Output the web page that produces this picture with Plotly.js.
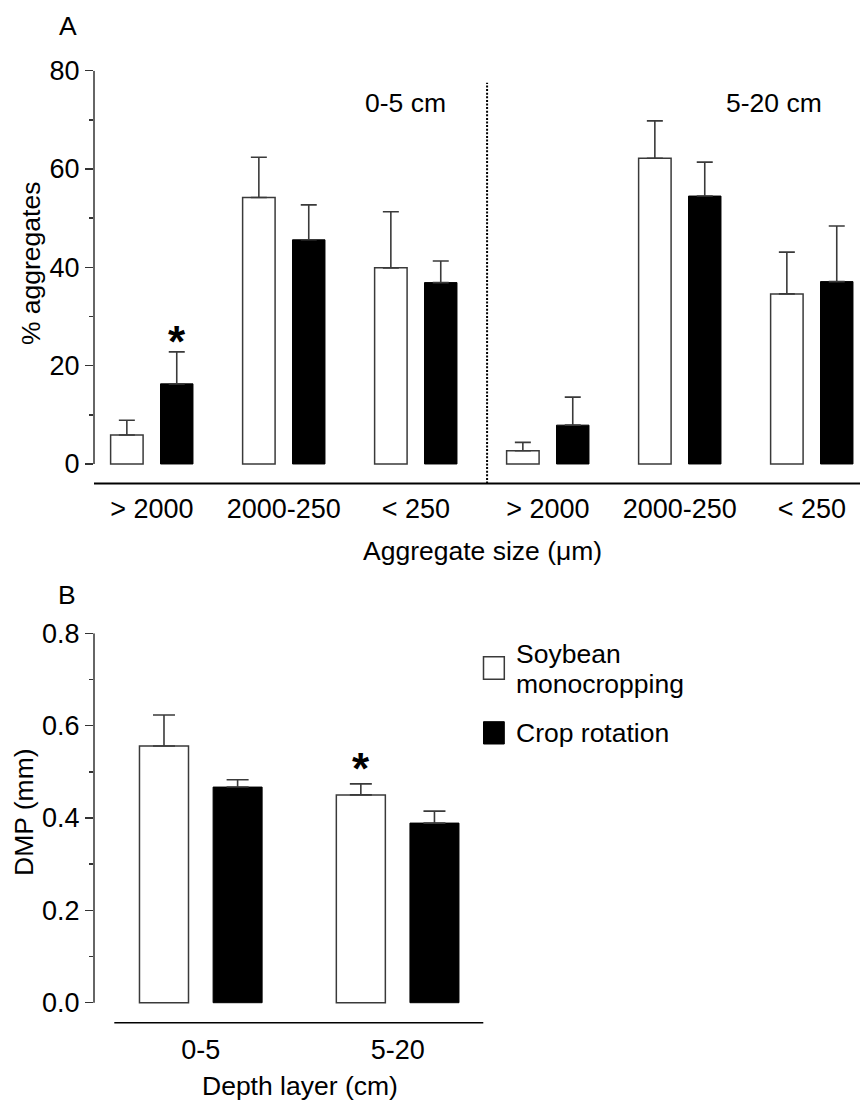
<!DOCTYPE html>
<html>
<head>
<meta charset="utf-8">
<script src="https://cdn.plot.ly/plotly-3.0.1.min.js"></script>
<style>
  html, body { margin: 0; padding: 0; background: #fff; }
  #chart { width: 860px; height: 1102px; }
</style>
</head>
<body>
<div id="chart"></div>
<script>
// ---------- Data ----------
// Panel A: aggregate size classes, two depths
const sizeClasses = ['&gt; 2000', '2000-250', '&lt; 250', '&gt; 2000', '2000-250', '&lt; 250'];
const depthLabelsA = ['0-5 cm', '5-20 cm'];
const monoAgg     = [5.9, 54.2, 39.9, 2.7, 62.2, 34.6];
const monoAggErr  = [3.0, 8.2, 11.4, 1.7, 7.6, 8.5];
const rotAgg      = [16.3, 45.6, 36.9, 7.9, 54.5, 37.1];
const rotAggErr   = [6.5, 7.1, 4.4, 5.7, 6.9, 11.3];
const monoAggSig  = ['', '', '', '', '', ''];
const rotAggSig   = ['*', '', '', '', '', ''];

// Panel B: mean weight diameter by depth layer
const depthLayers = ['0-5', '5-20'];
const monoDMP     = [0.556, 0.450];
const monoDMPErr  = [0.067, 0.024];
const rotDMP      = [0.467, 0.389];
const rotDMPErr   = [0.016, 0.026];
const monoDMPSig  = ['', '*'];
const rotDMPSig   = ['', ''];

const seriesNames = ['Soybean', 'monocropping', 'Crop rotation'];

// ---------- Helpers ----------
const W = 860, H = 1102;
const px = x => x / W;
const py = y => 1 - y / H;
const FONT = '"Liberation Sans", Arial, Helvetica, sans-serif';
const FS = 26.5;
const TFS = 27;
const AX = '#333333';

const idxA = sizeClasses.map((_, i) => i);
const idxB = depthLayers.map((_, i) => i);

const barW_A = 0.246, barW_B = 0.249;
const offMonoA = -0.312, offRotA = 0.066;
const offMonoB = -0.3115, offRotB = 0.0625;

function errBar(arr, half) {
  return {type: 'data', symmetric: false, array: arr, arrayminus: arr.map(() => 0),
          color: '#3a3a3a', thickness: 1.6, width: half};
}

const traces = [
  {type: 'bar', x: idxA, y: monoAgg, xaxis: 'x', yaxis: 'y', name: 'Soybean monocropping',
   offset: offMonoA, width: barW_A,
   marker: {color: '#ffffff', line: {color: '#3a3a3a', width: 1.5}},
   error_y: errBar(monoAggErr, 8), showlegend: false, hoverinfo: 'skip'},
  {type: 'bar', x: idxA, y: rotAgg, xaxis: 'x', yaxis: 'y', name: 'Crop rotation',
   offset: offRotA, width: barW_A,
   marker: {color: '#000000', line: {color: '#000000', width: 1}},
   error_y: errBar(rotAggErr, 8), showlegend: false, hoverinfo: 'skip'},
  {type: 'bar', x: idxB, y: monoDMP, xaxis: 'x2', yaxis: 'y2', name: 'Soybean monocropping',
   offset: offMonoB, width: barW_B,
   marker: {color: '#ffffff', line: {color: '#3a3a3a', width: 1.5}},
   error_y: errBar(monoDMPErr, 11), showlegend: false, hoverinfo: 'skip'},
  {type: 'bar', x: idxB, y: rotDMP, xaxis: 'x2', yaxis: 'y2', name: 'Crop rotation',
   offset: offRotB, width: barW_B,
   marker: {color: '#000000', line: {color: '#000000', width: 1}},
   error_y: errBar(rotDMPErr, 11), showlegend: false, hoverinfo: 'skip'}
];

const annotations = [];
function ann(o) {
  annotations.push(Object.assign({showarrow: false, font: {family: FONT, size: FS, color: '#000'}}, o));
}

// Panel letters
ann({text: 'A', xref: 'paper', yref: 'paper', x: px(67.5), y: py(25.5), xanchor: 'center', yanchor: 'middle'});
ann({text: 'B', xref: 'paper', yref: 'paper', x: px(67), y: py(594.7), xanchor: 'center', yanchor: 'middle'});

// Axis titles
ann({text: '% aggregates', xref: 'paper', yref: 'paper', x: px(30.8), y: py(263.3), textangle: -90, xanchor: 'center', yanchor: 'middle'});
ann({text: 'Aggregate size (μm)', xref: 'paper', yref: 'paper', x: px(482.5), y: py(551), xanchor: 'center', yanchor: 'middle'});
ann({text: 'DMP (mm)', xref: 'paper', yref: 'paper', x: px(23.3), y: py(811.7), textangle: -90, xanchor: 'center', yanchor: 'middle'});
ann({text: 'Depth layer (cm)', xref: 'paper', yref: 'paper', x: px(299.7), y: py(1086), xanchor: 'center', yanchor: 'middle'});

// Depth labels in panel A
ann({text: depthLabelsA[0], xref: 'paper', yref: 'paper', x: px(405.3), y: py(102.5), xanchor: 'center', yanchor: 'middle'});
ann({text: depthLabelsA[1], xref: 'paper', yref: 'paper', x: px(773.7), y: py(103), xanchor: 'center', yanchor: 'middle'});

// Significance asterisks
function sig(sigArr, vals, errs, off, w, xa, ya, shift) {
  sigArr.forEach((s, i) => {
    if (!s) return;
    annotations.push({text: '<b>' + s + '</b>', showarrow: false, xref: xa, yref: ya,
      x: i + off + w / 2, y: vals[i] + errs[i], xanchor: 'center', yanchor: 'bottom', yshift: shift,
      font: {family: FONT, size: 44, color: '#000'}});
  });
}
sig(monoAggSig, monoAgg, monoAggErr, offMonoA, barW_A, 'x', 'y', -16);
sig(rotAggSig, rotAgg, rotAggErr, offRotA, barW_A, 'x', 'y', -16);
sig(monoDMPSig, monoDMP, monoDMPErr, offMonoB, barW_B, 'x2', 'y2', -11.5);
sig(rotDMPSig, rotDMP, rotDMPErr, offRotB, barW_B, 'x2', 'y2', -11.5);

// Legend (manual)
ann({text: seriesNames[0], xref: 'paper', yref: 'paper', x: px(514), y: py(653.5), xanchor: 'left', yanchor: 'middle'});
ann({text: seriesNames[1], xref: 'paper', yref: 'paper', x: px(514), y: py(683.5), xanchor: 'left', yanchor: 'middle'});
ann({text: seriesNames[2], xref: 'paper', yref: 'paper', x: px(514), y: py(732.5), xanchor: 'left', yanchor: 'middle'});

const shapes = [
  // Panel A y-axis line (0..80 only)
  {type: 'line', xref: 'x domain', yref: 'y', x0: 0, x1: 0, y0: 0, y1: 80, line: {color: AX, width: 1.5}},
  // Panel A x-axis line
  {type: 'line', xref: 'x domain', yref: 'y domain', x0: 0, x1: 1, y0: 0, y1: 0, line: {color: '#000', width: 2}},
  // Dotted separator
  {type: 'line', xref: 'x', yref: 'y domain', x0: 2.54, x1: 2.54, y0: 0, y1: 0.971, line: {color: '#000', width: 2, dash: '2px,1.6px'}},
  // Panel B y-axis line
  {type: 'line', xref: 'x2 domain', yref: 'y2', x0: 0, x1: 0, y0: 0, y1: 0.8, line: {color: AX, width: 1.5}},
  // Panel B x-axis line
  {type: 'line', xref: 'x2 domain', yref: 'y2 domain', x0: (114.3 - 94) / (483.3 - 94), x1: 1, y0: 0, y1: 0, line: {color: '#000', width: 1.5}},
  // Legend boxes
  {type: 'rect', xref: 'paper', yref: 'paper', x0: px(483.5), x1: px(504.3), y0: py(679.3), y1: py(656.7), line: {color: '#3a3a3a', width: 1.5}, fillcolor: '#fff'},
  {type: 'rect', xref: 'paper', yref: 'paper', x0: px(483.5), x1: px(504.3), y0: py(744), y1: py(721.7), line: {color: '#000', width: 1}, fillcolor: '#000'}
];

const tickFont = {family: FONT, size: TFS, color: '#000'};

const layout = {
  width: W, height: H,
  margin: {l: 0, r: 0, t: 0, b: 0, pad: 0},
  paper_bgcolor: '#fff', plot_bgcolor: 'rgba(0,0,0,0)',
  showlegend: false,
  font: {family: FONT, size: FS, color: '#000'},
  xaxis: {domain: [px(94), 1], range: [(94 - 151.8) / 132, (860 - 151.8) / 132],
          tickvals: idxA, ticktext: sizeClasses, showline: false, zeroline: false, showgrid: false,
          ticks: 'outside', ticklen: 1, tickcolor: 'rgba(0,0,0,0)', tickfont: tickFont, fixedrange: true},
  yaxis: {domain: [py(483.5), py(70.7)], range: [-3.97, 80], dtick: 20, tick0: 0,
          showline: false, zeroline: false, showgrid: false,
          ticks: 'outside', ticklen: 8, tickwidth: 1.5, tickcolor: AX, tickfont: tickFont,
          minor: {dtick: 10, tick0: 0, ticks: 'outside', ticklen: 4, tickwidth: 1.5, tickcolor: AX},
          fixedrange: true},
  xaxis2: {domain: [px(94), px(483.3)], range: [(94 - 200.8) / 196.85, (483.3 - 200.8) / 196.85],
           anchor: 'y2', tickvals: idxB, ticktext: depthLayers, showline: false, zeroline: false, showgrid: false,
           ticks: 'outside', ticklen: 3, tickcolor: 'rgba(0,0,0,0)', tickfont: tickFont, fixedrange: true},
  yaxis2: {domain: [py(1022.7), py(633.3)], range: [-0.0433, 0.8], dtick: 0.2, tick0: 0, tickformat: '.1f',
           anchor: 'x2', showline: false, zeroline: false, showgrid: false,
           ticks: 'outside', ticklen: 8, tickwidth: 1.5, tickcolor: AX, tickfont: tickFont,
           minor: {dtick: 0.1, tick0: 0, ticks: 'outside', ticklen: 4, tickwidth: 1.5, tickcolor: AX},
           fixedrange: true},
  shapes: shapes,
  annotations: annotations
};

Plotly.newPlot('chart', traces, layout, {displayModeBar: false, staticPlot: true});
</script>
</body>
</html>
